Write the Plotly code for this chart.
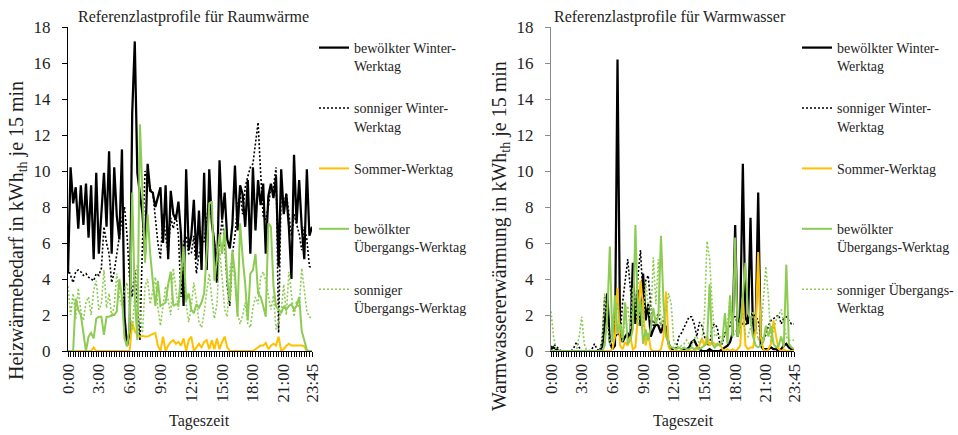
import plotly.graph_objects as go

# ---------------- data ----------------
TIMES = [f"{h}:{m:02d}" for h in range(24) for m in (0, 15, 30, 45)]
TICK_POS_LABELS = ["0:00", "3:00", "6:00", "9:00", "12:00", "15:00", "18:00", "21:00", "23:45"]

SERIES_NAMES = [
    "bewölkter Winter-<br>Werktag",
    "sonniger Winter-<br>Werktag",
    "Sommer-Werktag<br>&nbsp;",
    "bewölkter<br>Übergangs-Werktag",
    "sonniger<br>Übergangs-Werktag",
]
SERIES_NAMES_WW = [
    "bewölkter Winter-<br>Werktag",
    "sonniger Winter-<br>Werktag",
    "Sommer-Werktag<br>&nbsp;",
    "bewölkter<br>Übergangs-Werktag",
    "sonniger Übergangs-<br>Werktag",
]

# Raumwärme (space heating), kWh_th per 15 min
rw_bew_winter = [4.3,10.2,8.2,9.1,6.8,9.2,7.0,9.3,6.3,9.2, 5.1,9.9,5.4,7.8,9.9,6.9,11.1,5.4,10.2,7.5,
                 6.2,11.2,1.9,0.3,1.0,13.2,17.2,9.9,8.8,7.6, 5.4,10.4,8.9,8.8,8.0,8.6,9.1,6.0,9.2,5.1,
                 8.9,7.6,7.3,8.3,6.5,2.5,10.1,5.6,6.4,8.4, 5.1,7.8,4.5,9.9,4.5,10.1,7.1,6.0,3.8,10.6,
                 7.3,8.8,6.2,5.7,7.0,10.3,6.7,9.2,8.7,6.9, 9.5,5.4,10.2,6.7,9.5,8.1,9.3,5.4,8.6,9.3,
                 8.5,9.7,4.7,10.1,7.6,8.7,6.9,4.0,10.9,7.1, 9.5,6.9,5.1,10.1,6.4,6.9]
rw_son_winter = [4.6,4.2,3.8,4.4,4.5,4.4,4.2,4.3,4.1,4.0, 3.9,4.3,4.2,4.6,6.9,6.0,5.4,3.8,4.4,5.4,
                 6.5,7.3,8.0,6.4,4.0,3.0,4.5,2.6,0.6,6.0, 10.0,9.5,9.0,8.8,7.5,6.0,5.1,7.6,6.4,5.4,
                 7.4,6.8,7.6,6.4,3.0,6.0,6.4,5.4,5.4,6.4, 4.3,5.4,5.9,6.1,7.3,8.4,7.3,6.0,5.1,6.0,
                 7.3,6.1,3.6,2.5,5.4,6.4,8.0,8.8,7.6,9.1, 9.7,10.2,10.4,11.7,12.7,9.9,7.5,7.3,8.0,9.1,
                 9.1,10.2,1.0,9.1,8.0,8.8,7.6,6.4,7.6,7.0, 6.5,5.6,6.9,6.2,4.7,4.6]
rw_sommer = [0,0,0,0,0,0,0,0,0,0, 0.2,0,0,0,0,0,0,0,0,0,
             0,0,0,0,0,1.6,1.1,0.9,0.8,0.85, 0.8,0.8,0.9,0.95,1.0,0.3,0,0.8,0,0.3,
             0.5,0.6,0.4,0.5,0.3,0.7,0,0.6,0.8,0, 0.2,0.4,0.2,0.5,0.6,0.1,0.6,0.1,0.7,0.1,
             0.5,0.8,0.2,0,0,0,0,0,0,0, 0,0,0,0.1,0.2,0.3,0.3,0.45,0.1,0.3,
             0.4,0.3,0.8,0,0.1,0.3,0.4,0.3,0.3,0.3, 0.3,0.3,0.25,0,0,0]
rw_bew_ueb = [0,0,0,2.9,2.3,2.0,1.0,0.0,0.8,1.0, 0.7,1.8,1.9,1.9,0.9,1.9,1.9,2.0,2.0,2.2,
              4.0,3.0,0.7,0.25,1.3,8.8,3.0,0.6,12.6,8.9, 4.9,7.6,5.4,3.9,2.5,3.9,2.5,2.6,2.7,3.7,
              4.4,2.5,2.6,2.6,4.0,5.8,2.8,3.2,2.3,2.1, 2.6,2.4,2.7,3.2,5.4,8.2,8.3,3.9,5.1,6.5,
              5.4,6.8,4.0,2.8,5.6,4.3,1.9,7.1,5.2,3.7, 1.7,4.3,4.5,5.4,3.2,3.0,2.5,1.9,7.1,6.9,
              3.6,2.5,2.3,2.1,2.5,2.3,2.5,2.6,2.3,2.5, 3.0,1.1,0.6,0.05,0,0]
rw_son_ueb = [3.6,2.0,3.2,1.8,3.5,2.2,1.7,2.7,3.0,2.0, 3.4,3.9,2.3,2.6,4.5,2.4,3.2,1.9,2.5,4.3,
              3.0,2.5,3.4,3.8,2.2,1.2,3.0,4.8,2.0,1.0, 3.6,4.0,2.6,3.4,4.1,2.4,1.4,2.5,3.6,2.8,
              2.0,4.6,3.4,2.3,4.2,5.4,2.6,1.6,2.5,3.8, 2.8,1.6,1.3,2.1,3.3,4.3,2.9,1.8,2.6,5.6,
              4.1,2.3,1.9,4.5,5.3,3.7,2.1,1.5,2.0,2.7, 1.5,1.3,2.4,3.0,2.6,4.1,4.4,3.9,3.2,2.3,
              3.1,1.2,1.6,2.2,3.7,2.0,4.4,3.3,1.9,2.8, 2.4,4.6,3.3,2.2,1.9,1.8]

# Warmwasser (hot water), kWh_th per 15 min
ww_bew_winter = [0.1,0.2,0.1,0,0,0,0,0,0,0, 0,0,0,0,0,0,0,0,0,0,
                 0.2,1.5,3.2,0.5,0.1,0.3,16.2,1.0,0.5,0.8, 1.0,0.6,4.9,1.5,3.4,1.4,4.3,1.7,2.6,0.8,
                 1.2,1.5,1.4,1.0,1.5,1.2,0.4,0.1,0,0, 0,0,0.1,0.1,0.2,0.5,0.6,0.3,0.1,0,
                 0,0,0.1,0,0,0,0,0.1,0.2,0.3, 0.5,1.0,7.0,0.8,2.0,10.4,1.9,1.5,7.4,0.8,
                 1.2,8.8,0.3,0.1,0.1,0.1,0.2,0.1,0.1,0, 0.1,0.3,0.4,0.2,0.1,0.1]
ww_son_winter = [0.2,0.35,0.3,0.1,0,0,0,0,0,0.2, 0.5,0.2,0,0,0,0,0.1,0.4,0.1,0,
                 0.6,3.0,2.6,0.5,0.1,0.7,1.0,0.8,2.7,4.1, 5.1,3.5,2.2,1.7,4.2,5.6,2.9,3.9,4.2,2.5,
                 1.4,1.8,2.1,1.4,1.7,1.4,0.4,0.1,0.1,0.2, 0.8,1.0,1.35,1.6,1.9,1.9,1.5,0.8,1.6,1.4,
                 0.8,0.4,0.3,1.4,1.5,1.3,0.4,0.4,1.0,1.2, 1.4,1.9,1.9,1.5,1.2,1.6,1.4,1.8,2.0,2.1,
                 1.9,1.7,0.8,0.6,0.9,1.4,1.7,1.8,1.9,2.0, 1.5,1.8,1.9,1.7,1.5,1.5]
ww_sommer = [0,0,0,0,0,0,0,0,0,0, 0,0,0,0,0,0,0,0,0,0,
             0,0,0,0,0.1,0.8,3.5,0.3,0.1,0.5, 0.3,0.8,0.1,0.2,2.0,3.9,2.5,0.3,1.0,0.1,
             0,0,0,0.1,0.8,3.3,0.2,0,0,0, 0,0,0,0,0,0,0,0.1,0.3,0.7,
             0.3,0.8,0.3,0.5,0.4,0.3,0.4,0.1,0,0.1, 0,0.1,0,0.1,0.3,3.0,0.3,0.1,0.2,0.2,
             1.2,5.5,0.8,0.1,0,0.1,0.4,1.7,0.8,0.1, 0,0.1,0,0,0,0]
ww_bew_ueb = [0,0,0,0,0,0,0,0,0,0, 0,0,0,0,0,0,0,0,0,0,
              0,0.3,2.0,5.8,0.5,3.1,1.0,1.5,0.7,2.7, 0.4,0.6,1.2,7.0,1.9,2.8,0.4,1.2,0.6,1.3,
              2.4,1.5,2.0,6.4,2.6,0.8,0.4,0.2,0.2,0.1, 0.2,0.1,0.2,0.1,0.1,0.2,0.1,0.2,0.1,0.2,
              0.3,0.4,3.7,0.4,0.2,0.4,0.3,0.6,2.1,0.4, 3.1,0.8,6.3,0.8,1.6,3.0,4.9,2.1,1.8,0.8,
              0.3,0.2,0.3,0.5,1.4,0.8,1.4,0.4,0.2,0.3, 0.8,0.2,4.8,0.4,0.2,0.1]
ww_son_ueb = [2.2,0.8,0.1,0,0,0,0,0,0,0, 0.1,0.8,1.9,0.4,0,0,0,0,0,0,
              0.6,3.2,1.5,0.3,1.0,1.8,2.7,1.4,0.5,1.8, 2.5,1.2,3.5,2.6,1.4,2.6,1.3,3.8,2.5,1.7,
              5.2,2.6,5.1,1.4,2.0,2.2,3.2,2.6,0.5,0.3, 0.2,0.3,0.4,0.6,0.4,0.3,0.7,0.8,0.4,0.6,
              2.0,6.1,5.1,2.6,0.8,0.9,0.8,0.7,0.8,1.5, 3.0,0.8,1.0,1.4,1.7,2.1,0.9,0.8,1.3,2.2,
              1.5,0.6,0.9,2.6,4.7,3.0,0.5,1.2,1.7,2.0, 2.3,1.5,0.8,0.6,0.6,0.6]

# ---------------- styling ----------------
FONT = "Liberation Serif"
TXT = "#1e1e1e"
STYLES = [
    dict(color="#000000", width=2.25, dash="solid"),
    dict(color="#000000", width=1.6, dash="2px,2px"),
    dict(color="#FFC000", width=2.0, dash="solid"),
    dict(color="#8DCB52", width=2.0, dash="solid"),
    dict(color="#8DCB52", width=1.6, dash="2px,2px"),
]

x_idx = list(range(len(TIMES)))
tick_idx = [TIMES.index(t) for t in TICK_POS_LABELS]

fig = go.Figure()
rw = [rw_bew_winter, rw_son_winter, rw_sommer, rw_bew_ueb, rw_son_ueb]
ww = [ww_bew_winter, ww_son_winter, ww_sommer, ww_bew_ueb, ww_son_ueb]
for k, (ys, st) in enumerate(zip(rw, STYLES)):
    fig.add_trace(go.Scatter(x=x_idx, y=ys, mode="lines", name=SERIES_NAMES[k],
                             line=st, legend="legend", legendgroup=f"a{k}",
                             xaxis="x", yaxis="y", customdata=TIMES))
for k, (ys, st) in enumerate(zip(ww, STYLES)):
    fig.add_trace(go.Scatter(x=x_idx, y=ys, mode="lines", name=SERIES_NAMES_WW[k],
                             line=st, legend="legend2", legendgroup=f"b{k}",
                             xaxis="x2", yaxis="y2", customdata=TIMES))

W, H = 958, 435
def px(x): return x / W
def py(y): return 1 - y / H

xax = dict(range=[0, 95], tickmode="array", tickvals=tick_idx, ticktext=TICK_POS_LABELS,
           tickangle=-90, ticks="outside", ticklen=5, tickcolor="#000", showline=True,
           linecolor="#000", linewidth=1, showgrid=False, zeroline=False,
           tickfont=dict(family=FONT, size=17, color=TXT),
           minor=dict(tickmode="linear", tick0=0, dtick=1, ticks="outside", ticklen=5,
                      tickcolor="#000", showgrid=False))
yax = dict(range=[0, 18], dtick=2, ticks="outside", ticklen=5, showline=True, linewidth=1,
           showgrid=False, zeroline=False, ticklabelstandoff=8,
           tickfont=dict(family=FONT, size=17, color=TXT))

legend_common = dict(xanchor="left", yanchor="top", valign="top", tracegroupgap=21,
                     itemwidth=30, bgcolor="rgba(0,0,0,0)",
                     font=dict(family=FONT, size=14, color=TXT))

def ann(text, x, y, size, angle=0):
    return dict(text=text, x=px(x), y=py(y), xref="paper", yref="paper", xanchor="center",
                yanchor="middle", textangle=angle, showarrow=False,
                font=dict(family=FONT, size=size, color=TXT))

fig.update_layout(
    width=W, height=H, margin=dict(l=0, r=0, t=0, b=0, autoexpand=False),
    paper_bgcolor="white", plot_bgcolor="white",
    font=dict(family=FONT, color=TXT),
    xaxis=dict(xax, domain=[px(68), px(312)], anchor="y"),
    yaxis=dict(yax, domain=[py(351), py(27)], anchor="x", linecolor="#000", tickcolor="#000"),
    xaxis2=dict(xax, domain=[px(551), px(794)], anchor="y2"),
    yaxis2=dict(yax, domain=[py(351), py(27)], anchor="x2", linecolor="#8a8a8a", tickcolor="#8a8a8a"),
    legend=dict(legend_common, x=px(314), y=py(32)),
    legend2=dict(legend_common, x=px(797), y=py(32)),
    annotations=[
        ann("Referenzlastprofile für Raumwärme", 193, 17, 16),
        ann("Referenzlastprofile für Warmwasser", 670, 17, 16),
        ann("Tageszeit", 199, 421, 16),
        ann("Tageszeit", 683, 421, 16),
        ann("Heizwärmebedarf in kWh<sub>th</sub> je 15 min", 18, 231, 20, -90),
        ann("Warmwassererwärmung in kWh<sub>th</sub> je 15 min", 500, 236, 20, -90),
    ],
    showlegend=True,
)

fig.write_html("out.html")
